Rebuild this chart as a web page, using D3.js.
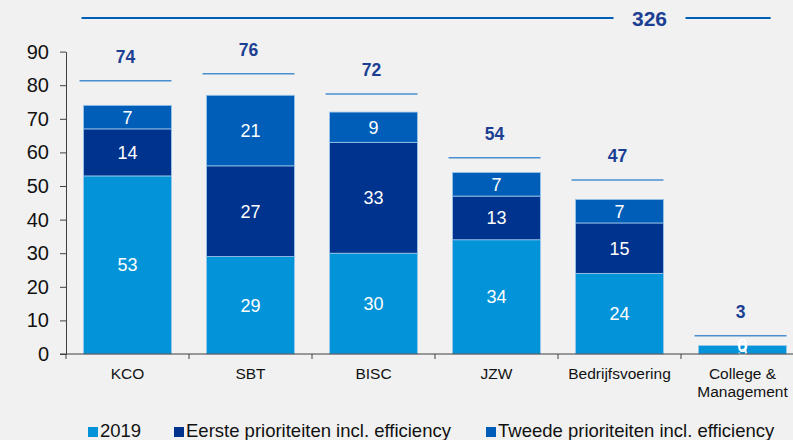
<!DOCTYPE html>
<html>
<head>
<meta charset="utf-8">
<script src="https://cdn.jsdelivr.net/npm/d3@7"></script>
<style>
  body { margin: 0; background: #f1f1f1; }
  svg { display: block; font-family: "Liberation Sans", Arial, sans-serif; }
</style>
</head>
<body>
<script>
// categories and series
var categories = ["KCO", "SBT", "BISC", "JZW", "Bedrijfsvoering", "College & Management"];
var base2019 = [53, 29, 30, 34, 24, 2.5];
var eerste = [14, 27, 33, 13, 15, 0];
var tweede = [7, 21, 9, 7, 7, 0];
var totals = [74, 76, 72, 54, 47, 3];
var bracketLevels = [81.3, 83.4, 77.4, 58.4, 51.8, 5.4];
var grandTotal = 326;
var grandLevel = 100;
var yTicks = [0, 10, 20, 30, 40, 50, 60, 70, 80, 90];
var seriesNames = ["2019", "Eerste prioriteiten incl. efficiency", "Tweede prioriteiten incl. efficiency"];
var seriesColors = ["#0393d8", "#00338d", "#005eb8"];

var w = 793, h = 440;

var svg = d3.select("body")
	.append("svg")
	.attr("width", w)
	.attr("height", h);

var x = d3.scaleBand()
	.domain(categories)
	.range([66, 804])
	.paddingInner(0.285)
	.paddingOuter(0.1425);

var y = d3.scaleLinear()
	.domain([0, 90])
	.range([354, 51.6]);

// stack the three series
var rows = categories.map(function(c, i){
	return { cat: c, s0: base2019[i], s1: eerste[i], s2: tweede[i] };
});
var stack = d3.stack().keys(["s0", "s1", "s2"]);
var layers = stack(rows);

var groups = svg.selectAll(".layer")
	.data(layers)
	.enter()
	.append("g")
	.attr("class", "layer")
	.attr("fill", function(d, i){ return seriesColors[i]; });

groups.selectAll("rect")
	.data(function(d){ return d; })
	.enter()
	.append("rect")
	.attr("x", function(d){ return x(d.data.cat); })
	.attr("width", x.bandwidth())
	.attr("y", function(d){ return y(d[1]); })
	.attr("height", function(d){ return y(d[0]) - y(d[1]); })
	.attr("stroke", "#9cc6ea")
	.attr("stroke-width", 0.8);

// segment labels
groups.selectAll("text")
	.data(function(d){ return d; })
	.enter()
	.append("text")
	.attr("x", function(d){ return x(d.data.cat) + x.bandwidth() / 2; })
	.attr("y", function(d){ return (y(d[0]) + y(d[1])) / 2 + 6.5; })
	.attr("text-anchor", "middle")
	.attr("fill", "#ffffff")
	.style("font-size", "18px")
	.text(function(d){ return Math.round(d[1] - d[0]); });

// y axis
var yAxis = d3.axisLeft(y)
	.tickValues(yTicks)
	.tickSize(6)
	.tickSizeOuter(0)
	.tickPadding(11);

var gy = svg.append("g")
	.attr("transform", "translate(66,0)")
	.call(yAxis);
gy.select(".domain").attr("stroke", "#404040");
gy.selectAll(".tick line").attr("stroke", "#404040");
gy.selectAll(".tick text")
	.attr("fill", "#111")
	.style("font-size", "20px")
	.attr("font-family", null);

// x axis line with ticks between bands
svg.append("line")
	.attr("x1", 60).attr("x2", 793)
	.attr("y1", y(0)).attr("y2", y(0))
	.attr("stroke", "#404040")
	.attr("stroke-width", 1.2);

svg.selectAll(".xtick")
	.data(d3.range(categories.length + 1))
	.enter()
	.append("line")
	.attr("class", "xtick")
	.attr("x1", function(i){ return 66 + i * x.step(); })
	.attr("x2", function(i){ return 66 + i * x.step(); })
	.attr("y1", y(0))
	.attr("y2", y(0) + 5)
	.attr("stroke", "#404040");

// category labels
var catLabels = svg.selectAll(".catLabel")
	.data(categories)
	.enter()
	.append("text")
	.attr("class", "catLabel")
	.attr("text-anchor", "middle")
	.attr("fill", "#111")
	.style("font-size", "15.5px");

catLabels.each(function(d){
	var parts = d === "College & Management" ? ["College &", "Management"] : [d];
	var t = d3.select(this);
	parts.forEach(function(p, j){
		t.append("tspan")
			.attr("x", x(d) + x.bandwidth() / 2)
			.attr("y", 379 + j * 18)
			.text(p);
	});
});

// total brackets above each bar
var bw = x.bandwidth() + 4;
svg.selectAll(".bracket")
	.data(categories)
	.enter()
	.append("line")
	.attr("class", "bracket")
	.attr("x1", function(d){ return x(d) - 4; })
	.attr("x2", function(d){ return x(d) - 4 + bw; })
	.attr("y1", function(d, i){ return y(bracketLevels[i]); })
	.attr("y2", function(d, i){ return y(bracketLevels[i]); })
	.attr("stroke", "#4a8fd2")
	.attr("stroke-width", 1.5);

svg.selectAll(".total")
	.data(categories)
	.enter()
	.append("text")
	.attr("class", "total")
	.attr("x", function(d){ return x(d) - 4 + bw / 2; })
	.attr("y", function(d, i){ return y(bracketLevels[i]) - 18; })
	.attr("text-anchor", "middle")
	.attr("fill", "#1c3f94")
	.style("font-size", "17.5px")
	.style("font-weight", "bold")
	.text(function(d, i){ return totals[i]; });

// grand total line
var last = categories[categories.length - 1];
var gx = x(last) - 49;
svg.append("line")
	.attr("x1", x(categories[0]) - 2).attr("x2", gx - 36)
	.attr("y1", y(grandLevel)).attr("y2", y(grandLevel))
	.attr("stroke", "#005eb8").attr("stroke-width", 2);
svg.append("line")
	.attr("x1", gx + 36).attr("x2", x(last) + x.bandwidth() * 0.82)
	.attr("y1", y(grandLevel)).attr("y2", y(grandLevel))
	.attr("stroke", "#005eb8").attr("stroke-width", 2);
svg.append("text")
	.attr("x", gx)
	.attr("y", y(grandLevel) + 8)
	.attr("text-anchor", "middle")
	.attr("fill", "#1c3f94")
	.style("font-size", "21px")
	.style("font-weight", "bold")
	.text(grandTotal);

// legend
var legendX = [88, 174, 486];
var legend = svg.selectAll(".legend")
	.data(seriesNames)
	.enter()
	.append("g")
	.attr("class", "legend")
	.attr("transform", function(d, i){ return "translate(" + legendX[i] + ",0)"; });

legend.append("rect")
	.attr("x", 0).attr("y", 427)
	.attr("width", 10).attr("height", 10)
	.attr("fill", function(d, i){ return seriesColors[i]; });

legend.append("text")
	.attr("x", 12).attr("y", 437)
	.attr("fill", "#111")
	.style("font-size", "18.5px")
	.text(function(d){ return d; });
</script>
</body>
</html>
